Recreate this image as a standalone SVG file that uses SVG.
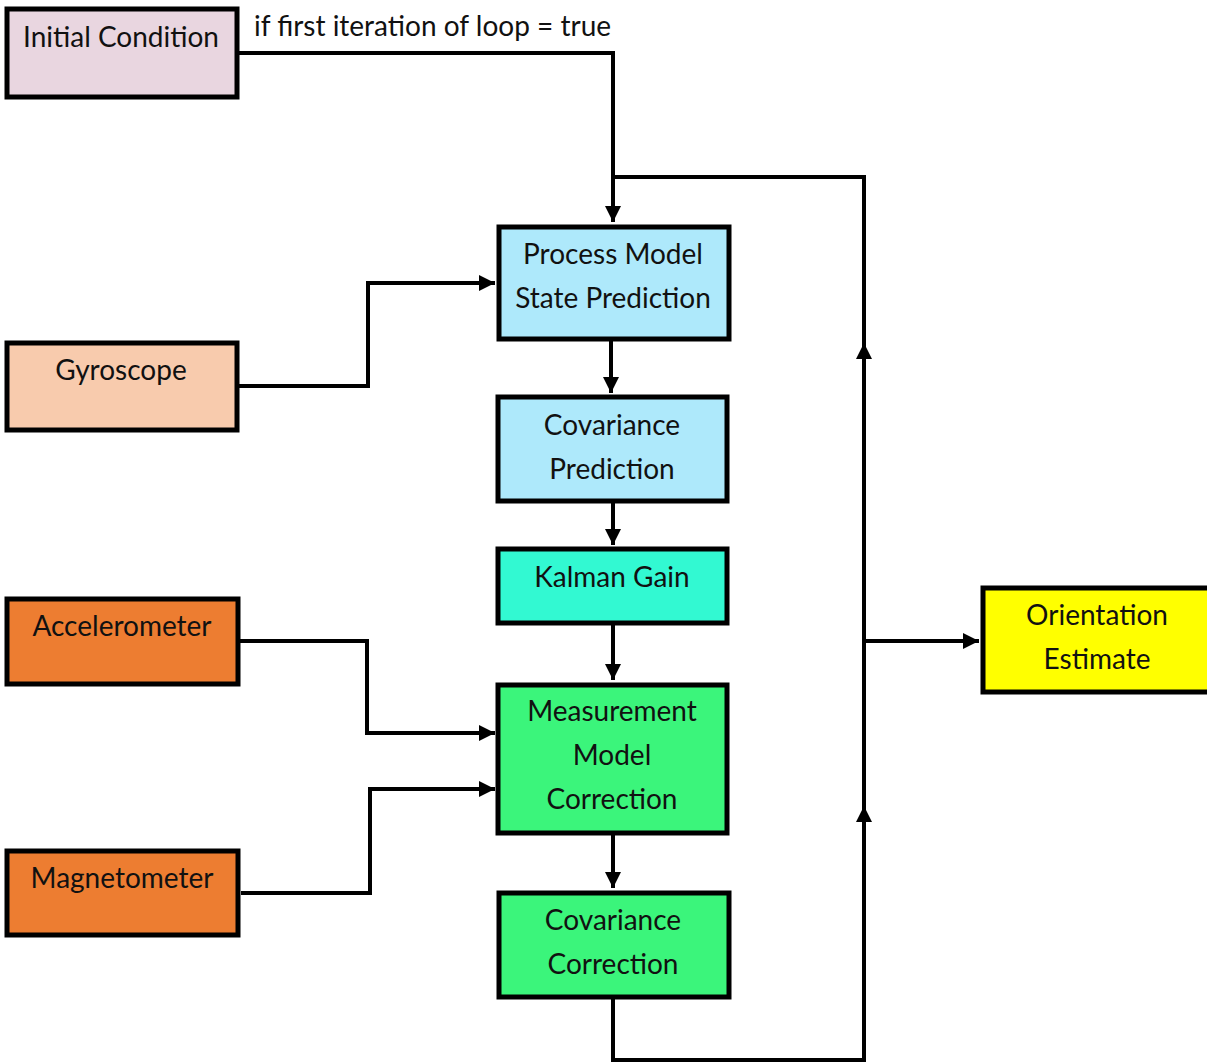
<svg xmlns="http://www.w3.org/2000/svg" width="1207" height="1063" viewBox="0 0 1207 1063">
<style>
.box{stroke:#000;stroke-width:5}
.t{font-family:Lato,"Open Sans","Liberation Sans",sans-serif;font-size:28px;fill:#111;text-anchor:middle}
.c{fill:none;stroke:#000;stroke-width:4}
</style>
<defs>
<marker id="ah" viewBox="0 0 10 10" refX="10" refY="5" markerWidth="4" markerHeight="4" orient="auto" markerUnits="strokeWidth">
<path d="M0,0 L10,5 L0,10 z" fill="#000"/>
</marker>
</defs>
<rect width="1207" height="1063" fill="#fff"/>
<g id="connectors">
<path class="c" d="M239,53 H613 V222" marker-end="url(#ah)"/>
<text class="t" x="254" y="36" style="text-anchor:start">if first iteration of loop = true</text>
<path class="c" d="M613,998 V1060 H864 V177 H613"/>
<path class="c" d="M864,400 V343" marker-end="url(#ah)"/>
<path class="c" d="M864,860 V806" marker-end="url(#ah)"/>
<path class="c" d="M864,641 H979" marker-end="url(#ah)"/>
<path class="c" d="M238,386 H368 V283 H495" marker-end="url(#ah)"/>
<path class="c" d="M611,340 V393" marker-end="url(#ah)"/>
<path class="c" d="M613,502 V545" marker-end="url(#ah)"/>
<path class="c" d="M613,624 V680" marker-end="url(#ah)"/>
<path class="c" d="M239,641 H367 V733 H495" marker-end="url(#ah)"/>
<path class="c" d="M241,893 H370 V789 H495" marker-end="url(#ah)"/>
<path class="c" d="M613,834 V888" marker-end="url(#ah)"/>
</g>
<g id="initial">
<rect class="box" x="7" y="9" width="230" height="88" fill="#E9D6E0"/>
<text class="t" x="121" y="47">Initial Condition</text>
</g>
<g id="process">
<rect class="box" x="499" y="227" width="230" height="112" fill="#AEE9FB"/>
<text class="t" x="613" y="264">Process Model</text>
<text class="t" x="613" y="308">State Prediction</text>
</g>
<g id="gyro">
<rect class="box" x="7" y="343" width="230" height="87" fill="#F8CBAD"/>
<text class="t" x="121" y="380">Gyroscope</text>
</g>
<g id="covpred">
<rect class="box" x="498" y="397" width="229" height="104" fill="#AEE9FB"/>
<text class="t" x="612" y="435">Covariance</text>
<text class="t" x="612" y="479">Prediction</text>
</g>
<g id="kalman">
<rect class="box" x="498" y="549" width="229" height="74" fill="#32F9D2"/>
<text class="t" x="612" y="587">Kalman Gain</text>
</g>
<g id="accel">
<rect class="box" x="7" y="599" width="231" height="85" fill="#ED7D31"/>
<text class="t" x="122" y="636">Accelerometer</text>
</g>
<g id="meas">
<rect class="box" x="498" y="685" width="229" height="148" fill="#3BF57B"/>
<text class="t" x="612" y="721">Measurement</text>
<text class="t" x="612" y="765">Model</text>
<text class="t" x="612" y="809">Correction</text>
</g>
<g id="magneto">
<rect class="box" x="7" y="851" width="231" height="84" fill="#ED7D31"/>
<text class="t" x="122" y="888">Magnetometer</text>
</g>
<g id="covcorr">
<rect class="box" x="499" y="893" width="230" height="104" fill="#3BF57B"/>
<text class="t" x="613" y="930">Covariance</text>
<text class="t" x="613" y="974">Correction</text>
</g>
<g id="orient">
<rect class="box" x="983" y="588" width="228" height="104" fill="#FFFF00"/>
<text class="t" x="1097" y="625">Orientation</text>
<text class="t" x="1097" y="669">Estimate</text>
</g>
</svg>
